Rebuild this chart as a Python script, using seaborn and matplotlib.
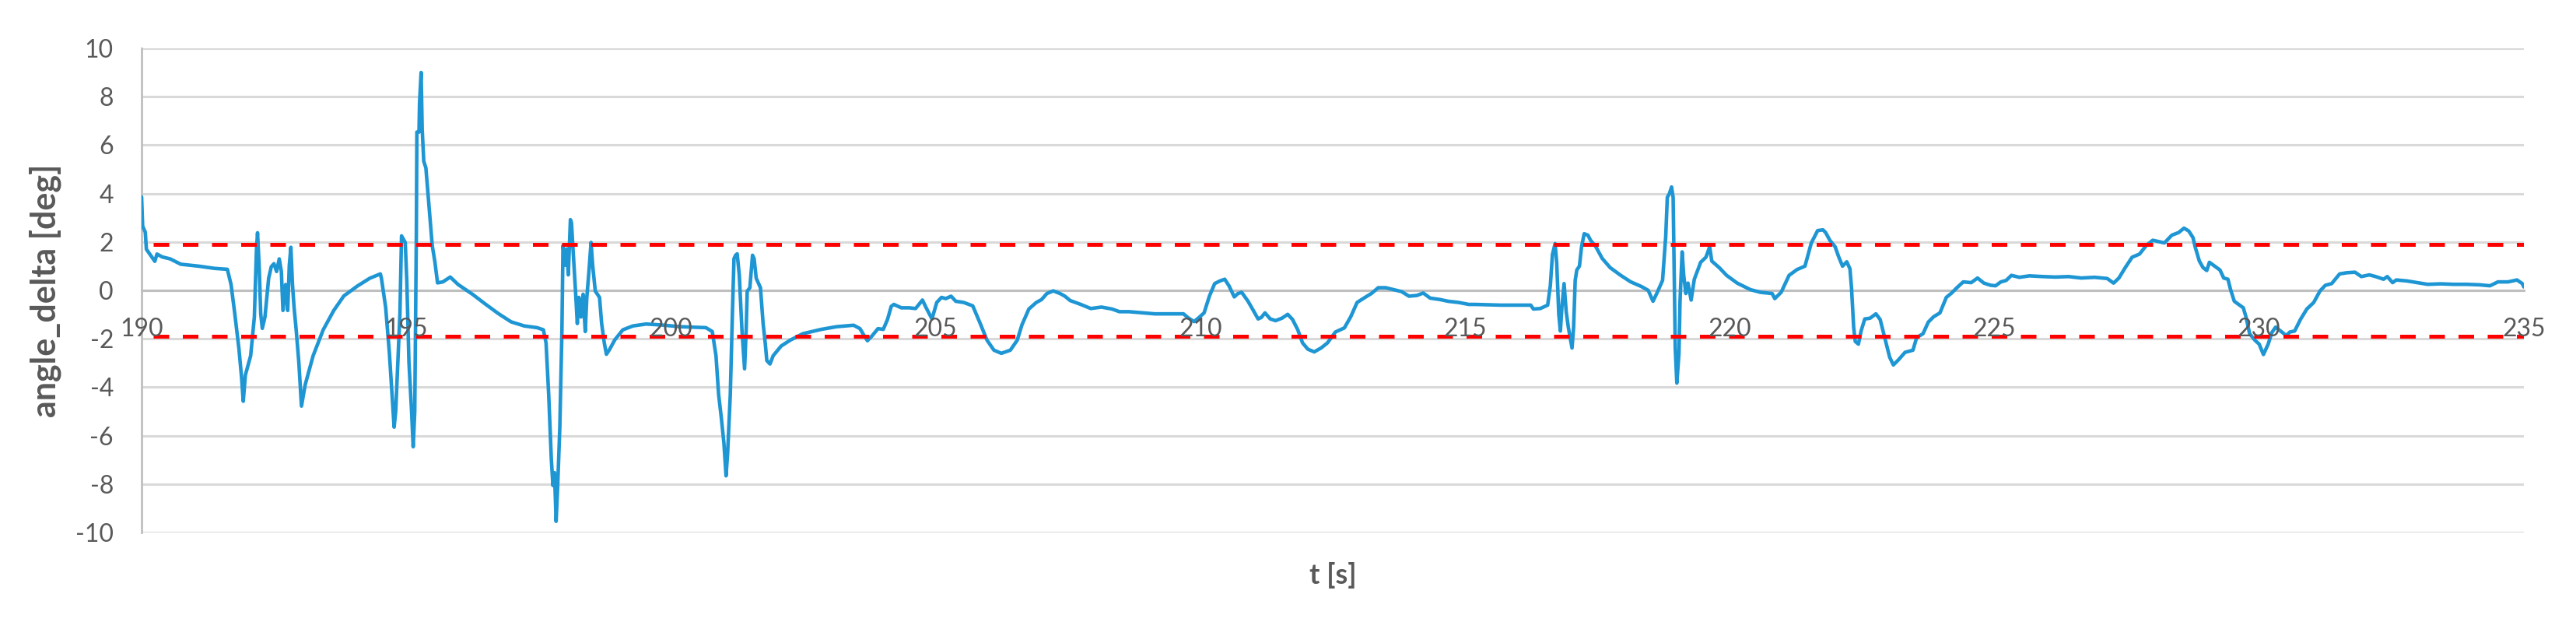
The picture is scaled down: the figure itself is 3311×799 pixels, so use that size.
import numpy as np
import pandas as pd
import matplotlib
matplotlib.use("Agg")
import matplotlib.pyplot as plt
import seaborn as sns

# ---------------- data ----------------
t_seg1 = [190.00, 190.02, 190.07, 190.09, 190.17, 190.25, 190.29, 190.39, 190.54, 190.74,
          191.08, 191.37, 191.62, 191.69, 191.76, 191.84, 191.89, 191.92, 191.96, 192.06,
          192.13, 192.17, 192.19, 192.22, 192.25, 192.28, 192.33, 192.40, 192.45, 192.50,
          192.55, 192.60, 192.64, 192.67, 192.72, 192.76, 192.79, 192.82, 192.85, 192.88,
          192.92, 192.97, 193.02, 193.09, 193.24, 193.43, 193.63, 193.82, 194.07, 194.31,
          194.51, 194.53, 194.61, 194.68, 194.73, 194.77, 194.80, 194.88, 194.91, 194.98,
          195.01, 195.05, 195.10, 195.13, 195.16, 195.19, 195.20, 195.24, 195.25, 195.28,
          195.30, 195.33, 195.37, 195.42, 195.49, 195.54, 195.59, 195.69, 195.83, 195.98]
v_seg1 = [3.86, 2.65, 2.40, 1.70, 1.45, 1.20, 1.50, 1.38, 1.30, 1.08,
          1.00, 0.91, 0.87, 0.24, -0.96, -2.44, -3.64, -4.58, -3.50, -2.70,
          -1.10, 1.70, 2.38, 1.04, -0.96, -1.57, -1.10, 0.50, 0.98, 1.10,
          0.78, 1.30, 0.78, -0.83, 0.24, -0.83, 1.04, 1.78, 0.24, -0.70,
          -1.63, -2.97, -4.78, -3.90, -2.70, -1.63, -0.83, -0.23, 0.17, 0.50,
          0.68, 0.50, -0.70, -2.57, -4.30, -5.65, -5.00, -0.96, 2.25, 1.98,
          0.37, -2.97, -5.00, -6.46, -5.00, 2.38, 6.54, 6.54, 7.74, 9.00,
          6.67, 5.33, 5.06, 3.72, 1.85, 1.18, 0.31, 0.35, 0.55, 0.24]

t_seg2 = [196.25, 196.49, 196.74, 196.98, 197.23, 197.47, 197.59, 197.64, 197.69, 197.74,
          197.77, 197.80, 197.83, 197.86, 197.90, 197.94, 197.96, 198.00, 198.03, 198.06,
          198.10, 198.12, 198.16, 198.20, 198.23, 198.26, 198.30, 198.34, 198.38, 198.41,
          198.45, 198.49, 198.52, 198.57, 198.65, 198.69, 198.74, 198.78, 198.84, 198.94,
          199.09, 199.28, 199.53, 199.82, 200.17, 200.66, 200.78, 200.85, 200.90, 200.95,
          201.00, 201.04, 201.07, 201.12, 201.16, 201.19, 201.22, 201.25, 201.29, 201.34,
          201.39, 201.42, 201.44, 201.49, 201.54, 201.57, 201.61, 201.69, 201.74, 201.78,
          201.81, 201.87, 201.93, 202.08]
v_seg2 = [-0.16, -0.56, -0.96, -1.30, -1.47, -1.54, -1.63, -2.17, -4.31, -6.99,
          -8.06, -7.53, -9.54, -8.06, -5.65, -1.63, 1.85, 1.04, 1.71, 0.64,
          2.92, 2.79, 1.31, -0.16, -1.37, -0.29, -1.10, -0.16, -1.70, -0.29,
          0.78, 1.98, 1.04, -0.03, -0.29, -1.37, -2.17, -2.64, -2.44, -2.04,
          -1.63, -1.47, -1.39, -1.43, -1.50, -1.54, -1.70, -2.70, -4.31, -5.25,
          -6.32, -7.66, -6.72, -4.31, -0.96, 1.31, 1.45, 1.51, 0.64, -1.63,
          -3.24, -1.63, -0.03, 0.11, 1.45, 1.31, 0.50, 0.11, -1.37, -2.17,
          -2.90, -3.04, -2.70, -2.30]

t_seg3 = [202.25, 202.49, 202.84, 203.13, 203.45, 203.57, 203.64, 203.71, 203.79, 203.91,
          204.01, 204.09, 204.16, 204.21, 204.35, 204.50, 204.62, 204.75, 204.82, 204.93,
          205.02, 205.11, 205.19, 205.29, 205.38, 205.53, 205.70, 205.83, 205.97, 206.10,
          206.24, 206.41, 206.54, 206.63, 206.76, 206.90, 207.00, 207.10, 207.22, 207.35,
          207.44, 207.54, 207.74, 207.93, 208.13, 208.33, 208.47, 208.65, 209.14, 209.68,
          209.78, 209.88, 209.97, 210.07, 210.17, 210.27, 210.37, 210.46, 210.54, 210.64,
          210.71, 210.78, 210.90, 211.00, 211.09, 211.15, 211.22, 211.32, 211.42, 211.54,
          211.65, 211.74, 211.84, 211.93, 212.03, 212.15, 212.28, 212.40, 212.55, 212.72,
          212.84, 212.96, 213.11, 213.23, 213.36, 213.50, 213.65, 213.80, 213.94, 214.09,
          214.21, 214.34, 214.53, 214.68, 214.88, 215.07]
v_seg3 = [-2.06, -1.79, -1.61, -1.50, -1.44, -1.58, -1.84, -2.08, -1.90, -1.58,
          -1.61, -1.20, -0.66, -0.58, -0.72, -0.72, -0.75, -0.40, -0.72, -1.18,
          -0.50, -0.29, -0.34, -0.24, -0.45, -0.50, -0.64, -1.31, -2.06, -2.47,
          -2.60, -2.47, -2.06, -1.42, -0.77, -0.50, -0.38, -0.13, -0.02, -0.13,
          -0.24, -0.42, -0.58, -0.75, -0.69, -0.77, -0.88, -0.88, -0.97, -0.97,
          -1.15, -1.29, -1.13, -0.93, -0.24, 0.28, 0.39, 0.46, 0.19, -0.27,
          -0.13, -0.08, -0.45, -0.83, -1.18, -1.12, -0.93, -1.18, -1.25, -1.15,
          -0.99, -1.20, -1.63, -2.17, -2.43, -2.54, -2.38, -2.17, -1.72, -1.55,
          -1.09, -0.50, -0.29, -0.13, 0.11, 0.11, 0.03, -0.05, -0.24, -0.21,
          -0.11, -0.32, -0.38, -0.45, -0.50, -0.58]

t_seg4 = [215.19, 215.68, 216.24, 216.29, 216.42, 216.56, 216.61, 216.65, 216.70, 216.73,
          216.77, 216.80, 216.83, 216.87, 216.91, 216.95, 217.02, 217.05, 217.08, 217.11,
          217.16, 217.20, 217.25, 217.32, 217.37, 217.47, 217.59, 217.74, 217.94, 218.13,
          218.33, 218.46, 218.55, 218.62, 218.73, 218.79, 218.82, 218.86, 218.90, 218.93,
          218.95, 218.97, 219.00, 219.04, 219.06, 219.10, 219.13, 219.17, 219.21, 219.27,
          219.33, 219.45, 219.55, 219.62, 219.66, 219.80, 219.94, 220.14, 220.39, 220.58,
          220.80, 220.85, 220.97, 221.12, 221.27, 221.42, 221.54, 221.66, 221.76]
v_seg4 = [-0.58, -0.61, -0.61, -0.77, -0.75, -0.61, 0.19, 1.48, 1.93, 1.16,
          -0.99, -1.68, -0.66, 0.28, -0.88, -1.52, -2.38, -1.52, 0.41, 0.84,
          1.00, 1.80, 2.34, 2.28, 2.07, 1.80, 1.32, 0.94, 0.62, 0.35,
          0.16, 0.00, -0.45, -0.13, 0.41, 2.23, 3.84, 4.00, 4.27, 3.84,
          0.62, -2.38, -3.83, -2.60, -0.45, 1.59, 0.62, -0.13, 0.30, -0.40,
          0.46, 1.16, 1.37, 1.80, 1.21, 0.94, 0.62, 0.30, 0.03, -0.08,
          -0.13, -0.34, -0.08, 0.62, 0.86, 1.00, 1.96, 2.47, 2.50]

t_seg5 = [221.81, 221.89, 221.99, 222.06, 222.13, 222.21, 222.27, 222.30, 222.34, 222.37,
          222.43, 222.48, 222.55, 222.65, 222.76, 222.84, 222.94, 223.02, 223.09, 223.19,
          223.31, 223.46, 223.53, 223.65, 223.75, 223.85, 223.97, 224.09, 224.19, 224.29,
          224.41, 224.56, 224.68, 224.80, 224.93, 225.02, 225.12, 225.22, 225.32, 225.47,
          225.66, 225.91, 226.15, 226.40, 226.64, 226.89, 227.13, 227.25, 227.35, 227.47,
          227.60, 227.74, 227.87, 227.99, 228.11, 228.21]
v_seg5 = [2.39, 2.07, 1.80, 1.37, 1.00, 1.18, 0.89, 0.09, -1.52, -2.11,
          -2.22, -1.68, -1.18, -1.15, -0.97, -1.20, -2.06, -2.76, -3.08, -2.86,
          -2.56, -2.47, -1.95, -1.79, -1.31, -1.09, -0.93, -0.29, -0.11, 0.11,
          0.35, 0.32, 0.51, 0.30, 0.21, 0.19, 0.35, 0.41, 0.62, 0.54,
          0.60, 0.57, 0.55, 0.57, 0.51, 0.54, 0.49, 0.30, 0.51, 0.94,
          1.37, 1.50, 1.86, 2.07, 2.01, 1.96]

t_seg6 = [228.35, 228.48, 228.58, 228.67, 228.75, 228.79, 228.87, 228.94, 229.01, 229.06,
          229.16, 229.26, 229.33, 229.41, 229.46, 229.53, 229.63, 229.70, 229.75, 229.82,
          229.92, 230.00, 230.08, 230.17, 230.24, 230.31, 230.44, 230.51, 230.58, 230.67,
          230.78, 230.90, 231.03, 231.15, 231.25, 231.37, 231.52, 231.66, 231.81, 231.93,
          232.08, 232.20, 232.35, 232.42, 232.52, 232.59, 232.79, 232.99, 233.18, 233.43,
          233.67, 233.92, 234.16, 234.36, 234.51, 234.70, 234.87, 234.97, 235.00]
v_seg6 = [2.28, 2.39, 2.57, 2.45, 2.18, 1.80, 1.21, 0.94, 0.82, 1.16,
          1.00, 0.84, 0.51, 0.46, 0.03, -0.45, -0.61, -0.72, -1.09, -1.79,
          -2.06, -2.22, -2.65, -2.22, -1.74, -1.52, -1.74, -1.87, -1.72, -1.68,
          -1.20, -0.77, -0.50, -0.02, 0.21, 0.28, 0.68, 0.73, 0.75, 0.57,
          0.64, 0.57, 0.46, 0.57, 0.32, 0.43, 0.39, 0.32, 0.25, 0.27,
          0.25, 0.25, 0.23, 0.19, 0.35, 0.35, 0.43, 0.28, 0.14]

limit_upper = 1.9
limit_lower = -1.9
x_range = [190, 235]
x_ticks = [190, 195, 200, 205, 210, 215, 220, 225, 230, 235]
y_ticks = [-10, -8, -6, -4, -2, 0, 2, 4, 6, 8, 10]

t_all = np.concatenate([t_seg1, t_seg2, t_seg3, t_seg4, t_seg5, t_seg6])
v_all = np.concatenate([v_seg1, v_seg2, v_seg3, v_seg4, v_seg5, v_seg6])
df = pd.DataFrame({"t": t_all, "angle_delta": v_all})
df_up = pd.DataFrame({"t": x_range, "lim": [limit_upper, limit_upper]})
df_lo = pd.DataFrame({"t": x_range, "lim": [limit_lower, limit_lower]})

# ---------------- style ----------------
sns.set_theme(style="white")
plt.rcParams["font.family"] = ["Lato", "DejaVu Sans"]
plt.rcParams["axes.unicode_minus"] = False

W, H = 3312, 799
fig = plt.figure(figsize=(W / 100, H / 100), dpi=100)
left, right, top, bottom = 182, 3244, 62, 684
ax = fig.add_axes([left / W, 1 - bottom / H, (right - left) / W, (bottom - top) / H])

TXT = "#595959"
BLUE = "#1E96D4"

# gridlines
ax.hlines(y_ticks, x_range[0], x_range[1], colors="#D9D9D9", lw=2.2, zorder=0.5)

sns.lineplot(data=df, x="t", y="angle_delta", ax=ax, color=BLUE, lw=3.3,
             sort=False, estimator=None, zorder=2)
sns.lineplot(data=df_up, x="t", y="lim", ax=ax, color="#FF0000", lw=3.6,
             linestyle=(4.5, (4, 3.5)), zorder=2.2)
sns.lineplot(data=df_lo, x="t", y="lim", ax=ax, color="#FF0000", lw=3.6,
             linestyle=(4.5, (4, 3.5)), zorder=2.2)

ax.set_xlim(*x_range)
ax.set_ylim(-10, 10)
ax.set_xticks(x_ticks)
ax.set_yticks(y_ticks)
ax.set_axisbelow(False)

for s in ["top", "right"]:
    ax.spines[s].set_visible(False)
ax.spines["bottom"].set_position(("data", 0))
ax.spines["bottom"].set_color("#BFBFBF")
ax.spines["bottom"].set_linewidth(2.2)
ax.spines["bottom"].set_zorder(0.6)
ax.spines["left"].set_color("#BFBFBF")
ax.spines["left"].set_linewidth(2.0)
ax.spines["left"].set_zorder(0.6)

ax.tick_params(axis="both", length=0, labelsize=23, labelcolor=TXT)
ax.tick_params(axis="x", pad=25)
ax.tick_params(axis="y", pad=26)

ax.set_xlabel("t [s]", fontsize=26, fontweight="bold", color=TXT)
ax.xaxis.set_label_coords(0.5, -0.061)
ax.set_ylabel("angle_delta [deg]", fontsize=31, fontweight="bold", color=TXT)
ax.yaxis.set_label_coords(-0.0335, 0.5)

fig.savefig("out.png", dpi=100, facecolor="white")
